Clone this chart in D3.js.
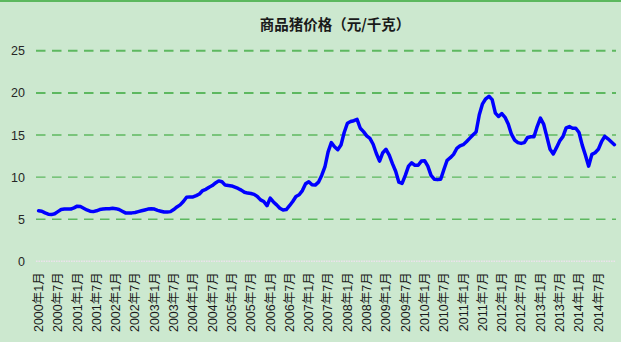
<!DOCTYPE html>
<html>
<head>
<meta charset="utf-8">
<script src="https://cdn.jsdelivr.net/npm/d3@7/dist/d3.min.js"></script>
<style>
  html, body { margin: 0; padding: 0; background: #cce8cf; }
  svg { display: block; }
</style>
</head>
<body>
<svg id="chart" width="621" height="342"></svg>
<script>
// Monthly pig price (yuan/kg), Jan 2000 – Dec 2014
const years = [2000, 2001, 2002, 2003, 2004, 2005, 2006, 2007, 2008, 2009, 2010, 2011, 2012, 2013, 2014];
const prices = [
  // 2000
  6.0, 5.95, 5.75, 5.6, 5.55, 5.65, 5.9, 6.15, 6.2, 6.2, 6.2, 6.35,
  // 2001
  6.55, 6.5, 6.3, 6.1, 5.95, 5.9, 6.0, 6.15, 6.2, 6.25, 6.25, 6.3,
  // 2002
  6.25, 6.15, 5.95, 5.75, 5.75, 5.75, 5.8, 5.9, 6.0, 6.1, 6.2, 6.25,
  // 2003
  6.2, 6.05, 5.95, 5.85, 5.85, 5.9, 6.15, 6.45, 6.7, 7.1, 7.6, 7.65,
  // 2004
  7.65, 7.8, 8.0, 8.4, 8.55, 8.8, 9.0, 9.3, 9.55, 9.45, 9.05, 9.0,
  // 2005
  8.95, 8.8, 8.65, 8.45, 8.2, 8.1, 8.05, 7.95, 7.7, 7.3, 7.1, 6.6,
  // 2006
  7.5, 7.05, 6.7, 6.3, 6.1, 6.15, 6.6, 7.1, 7.7, 7.9, 8.4, 9.2,
  // 2007
  9.45, 9.1, 9.05, 9.4, 10.2, 11.2, 13.0, 14.1, 13.6, 13.25, 13.8, 15.3,
  // 2008
  16.4, 16.6, 16.7, 16.85, 15.8, 15.4, 14.9, 14.6, 13.9, 12.8, 11.9, 12.9,
  // 2009
  13.3, 12.6, 11.6, 10.7, 9.4, 9.25, 10.2, 11.3, 11.7, 11.4, 11.4, 11.9,
  // 2010
  11.95, 11.3, 10.2, 9.75, 9.7, 9.75, 10.9, 12.0, 12.3, 12.7, 13.4, 13.7,
  // 2011
  13.85, 14.2, 14.6, 15.0, 15.35, 17.4, 18.7, 19.3, 19.6, 19.2, 17.6, 17.2,
  // 2012
  17.55, 17.1, 16.3, 15.1, 14.4, 14.1, 14.0, 14.1, 14.7, 14.8, 14.8, 16.0,
  // 2013
  17.0, 16.3, 14.8, 13.3, 12.75, 13.5, 14.3, 14.8, 15.85, 16.0, 15.8, 15.8,
  // 2014
  15.3, 13.8, 12.6, 11.3, 12.7, 12.9, 13.3, 14.2, 14.85, 14.55, 14.2, 13.85
];
const tickLabels = [
  "2000年1月", "2000年7月", "2001年1月", "2001年7月", "2002年1月", "2002年7月",
  "2003年1月", "2003年7月", "2004年1月", "2004年7月", "2005年1月", "2005年7月",
  "2006年1月", "2006年7月", "2007年1月", "2007年7月", "2008年1月", "2008年7月",
  "2009年1月", "2009年7月", "2010年1月", "2010年7月", "2011年1月", "2011年7月",
  "2012年1月", "2012年7月", "2013年1月", "2013年7月", "2014年1月", "2014年7月"
];
const yTicks = [0, 5, 10, 15, 20, 25];
const title = "商品猪价格（元/千克）";

// One category per month
const months = [];
years.forEach(y => { for (let m = 1; m <= 12; m++) months.push(`${y}年${m}月`); });
const series = months.map((label, i) => ({ label, value: prices[i] }));

const svg = d3.select("#chart");
const W = 621, H = 342;
const plot = { left: 37, right: 616, top: 50.8, bottom: 261.3 };

const x = d3.scaleBand().domain(months).range([plot.left, plot.right]).padding(0);
const y = d3.scaleLinear().domain([0, 25]).range([plot.bottom, plot.top]);
const cx = d => x(d) + x.bandwidth() / 2;

// background and top border
svg.append("rect").attr("width", W).attr("height", H).attr("fill", "#cce8cf");
svg.append("line").attr("x1", 0).attr("x2", W).attr("y1", 1).attr("y2", 1)
  .attr("stroke", "#5cb85f").attr("stroke-width", 2);

// title
svg.append("text")
  .attr("x", 335).attr("y", 30)
  .attr("text-anchor", "middle")
  .attr("font-family", "'Noto Sans CJK SC', sans-serif")
  .attr("font-weight", "bold")
  .attr("font-size", 14.5)
  .attr("fill", "#1a1a1a")
  .text(title);

// horizontal gridlines
const grid = svg.append("g");
grid.selectAll("line.grid")
  .data(yTicks.filter(t => t > 0))
  .join("line")
  .attr("class", "grid")
  .attr("x1", plot.left - 1).attr("x2", plot.right)
  .attr("y1", d => y(d)).attr("y2", d => y(d))
  .attr("stroke", "#5db860")
  .attr("stroke-width", d => d >= 20 ? 2 : 1.4)
  .attr("stroke-dasharray", "9.5,6.5");

// zero baseline (dotted)
grid.append("line")
  .attr("x1", plot.left - 1).attr("x2", plot.right)
  .attr("y1", y(0)).attr("y2", y(0))
  .attr("stroke", "#ece2ec")
  .attr("stroke-width", 1.5)
  .attr("stroke-dasharray", "1.5,1");

// y axis labels
const yAxis = d3.axisLeft(y).tickValues(yTicks).tickSize(0).tickPadding(0);
const gy = svg.append("g").attr("transform", `translate(${plot.left - 12},0)`).call(yAxis);
gy.select(".domain").remove();
gy.selectAll("text")
  .attr("font-family", "'Liberation Sans', Arial, sans-serif")
  .attr("font-size", 12.5)
  .attr("fill", "#262626");

// x axis labels, rotated, every 6 months
const xAxis = d3.axisBottom(x).tickValues(tickLabels).tickSize(0).tickPadding(0);
const gx = svg.append("g").attr("transform", `translate(0,${plot.bottom})`).call(xAxis);
gx.select(".domain").remove();
gx.selectAll("text")
  .attr("font-family", "'Liberation Sans', 'Noto Sans CJK SC', sans-serif")
  .attr("font-size", 12.5)
  .attr("fill", "#1a1a1a")
  .attr("text-anchor", "end")
  .attr("dy", "0.35em")
  .attr("transform", "translate(0,11) rotate(-90)");

// price line
const line = d3.line()
  .x(d => cx(d.label))
  .y(d => y(d.value));
svg.append("path")
  .datum(series)
  .attr("d", line)
  .attr("fill", "none")
  .attr("stroke", "#0000ff")
  .attr("stroke-width", 3.5)
  .attr("stroke-linejoin", "round")
  .attr("stroke-linecap", "round");
</script>
</body>
</html>
